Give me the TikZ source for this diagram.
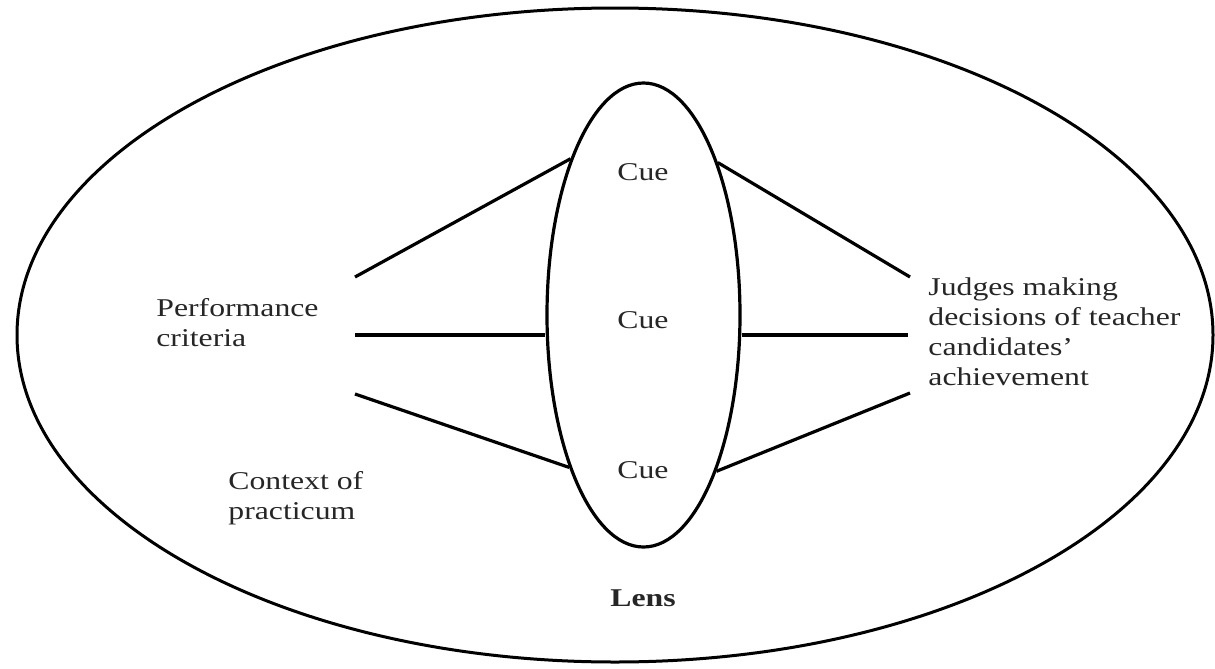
\documentclass[tikz,border=0pt]{standalone}
\usepackage{fontspec}
\setmainfont{Liberation Serif}[FakeStretch=1.24]
\usetikzlibrary{shapes.geometric}
\begin{document}
\begin{tikzpicture}[x=0.5pt,y=-0.5pt,
  ring/.style={ellipse, draw, line width=1.5pt, inner sep=0pt},
  label/.style={inner sep=0pt, align=left, text=black!85, font=\fontsize{12.8}{15}\selectfont},
  cuetext/.style={inner sep=0pt, text=black!85, font=\fontsize{12.8}{15}\selectfont},
  link/.style={line width=1.6pt}]
\useasboundingbox (0,0) rectangle (1215,669);
\node[ring, minimum width=598pt, minimum height=327pt] (world) at (615,335) {};
\node[ring, line width=1.6pt, minimum width=96.5pt, minimum height=232pt] (lens) at (643.5,315) {};
\node[cuetext] (cue1) at (643,172) {Cue};
\node[cuetext] (cue2) at (643,320) {Cue};
\node[cuetext] (cue3) at (643,470) {Cue};
\node[cuetext, font=\fontsize{12.8}{15}\selectfont\bfseries] (lenslabel) at (643,598) {Lens};
\node[label, anchor=base west] (perf) at (156,346) {Performance\\criteria};
\node[label, anchor=base west] (ctx) at (228,519) {Context of\\practicum};
\node[label, anchor=base west] (judges) at (928,385) {Judges making\\decisions of teacher\\candidates’\\achievement};
\coordinate (l1) at (355,277);
\coordinate (l2) at (355,335);
\coordinate (l3) at (355,394);
\coordinate (r1) at (910,277);
\coordinate (r2) at (908,335);
\coordinate (r3) at (910,393);
\draw[link] (l1) -- (lens.115.4);
\draw[link] (l2) -- (l2 -| lens.west);
\draw[link] (l3) -- (lens.244.6);
\draw[link] (r1) -- (lens.64.6);
\draw[link] (r2) -- (r2 -| lens.east);
\draw[link] (r3) -- (lens.295.4);
\end{tikzpicture}
\end{document}
